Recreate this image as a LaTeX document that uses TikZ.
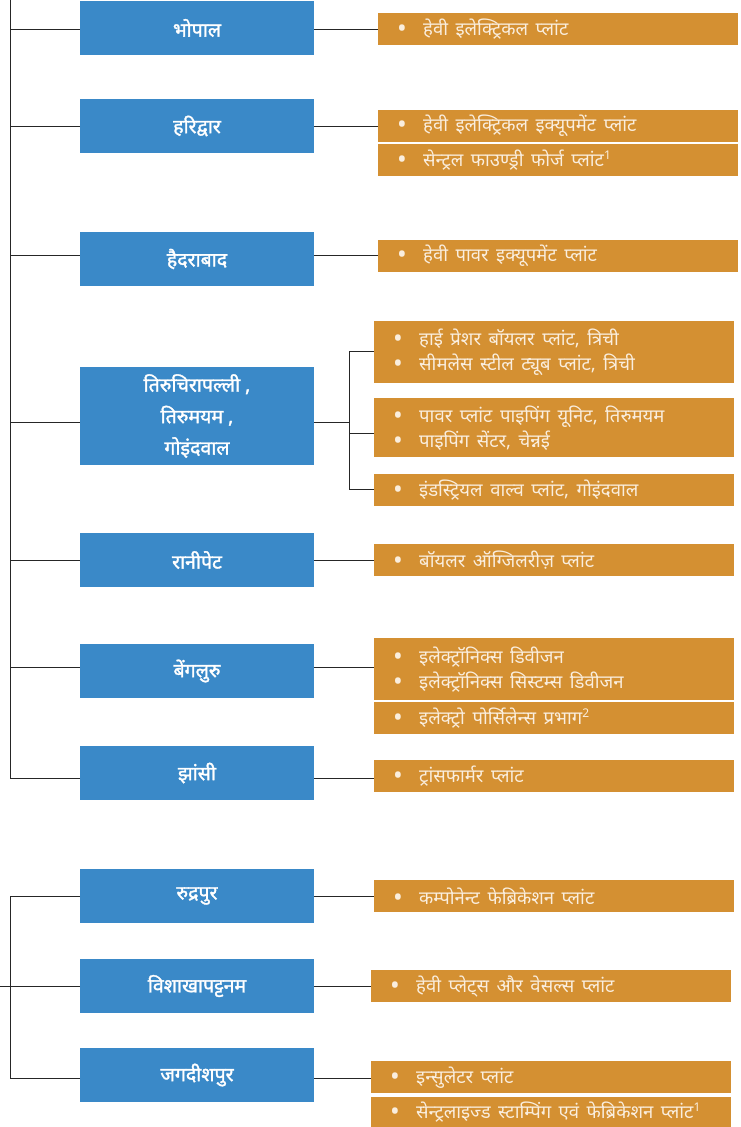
\documentclass[tikz,border=0pt]{standalone}
\usepackage{fontspec}
\newfontfamily\deva[Script=Devanagari]{Noto Sans}
\newfontfamily\devab[Script=Devanagari,FakeBold=1.6]{Noto Sans}
\usetikzlibrary{calc}
\definecolor{cityblue}{HTML}{3A89C8}
\definecolor{plantorange}{HTML}{D49032}
\definecolor{plantcream}{RGB}{250,238,222}
\newcommand{\itm}[1]{\makebox[45pt][l]{\hspace*{19pt}\raisebox{-2pt}[0pt][0pt]{\scalebox{1.4}{\textbullet}}}{\spaceskip=7.5pt plus 1pt\relax #1}}
\newcommand{\supr}[1]{\raisebox{0.38em}{\fontsize{12}{12}\selectfont\bfseries #1}}
\begin{document}
\begin{tikzpicture}[x=1pt,y=-1pt,
  citybox/.style={fill=cityblue, draw=none, minimum width=234pt, minimum height=54pt,
    inner sep=0pt, text=white, align=center,
    font=\devab\fontsize{19.5}{31.5}\selectfont},
  plantbox/.style={fill=plantorange, draw=none, anchor=north west, inner xsep=0pt, inner ysep=0pt,
    minimum height=32pt, text width=360pt, align=left, text=plantcream,
    font=\deva\fontsize{18.5}{25}\selectfont},
  link/.style={draw=black!85, line width=1pt}]
\useasboundingbox (0,0) rectangle (740,1127);

% city boxes
\node[citybox] (bhopal) at (197,28) {भोपाल};
\node[citybox] (hari) at (197,126) {हरिद्वार};
\node[citybox] (hyd) at (197,259) {हैदराबाद};
\node[citybox, minimum height=98pt] (tri) at (197,416) {तिरुचिरापल्ली ,\\तिरुमयम ,\\गोइंदवाल};
\node[citybox] (rani) at (197,560) {रानीपेट};
\node[citybox] (beng) at (197,671) {बेंगलुरु};
\node[citybox] (jhan) at (197,773) {झांसी};
\node[citybox] (rudra) at (197,896) {रुद्रपुर};
\node[citybox] (vis) at (197,986) {विशाखापट्टनम};
\node[citybox] (jag) at (197,1075) {जगदीशपुर};

% plant boxes
\node[plantbox] (p1) at (378,13) {\itm{हेवी इलेक्ट्रिकल प्लांट}};
\node[plantbox] (p2a) at (378,110) {\itm{हेवी इलेक्ट्रिकल इक्यूपमेंट प्लांट}};
\node[plantbox] (p2b) at (378,144) {\itm{सेन्ट्रल फाउण्ड्री फोर्ज प्लांट\supr{1}}};
\node[plantbox] (p3) at (378,240) {\itm{हेवी पावर इक्यूपमेंट प्लांट}};
\node[plantbox, minimum height=62pt] (p4a) at (374,321) {\itm{हाई प्रेशर बॉयलर प्लांट, त्रिची}\\\itm{सीमलेस स्टील ट्यूब प्लांट, त्रिची}};
\node[plantbox, minimum height=59pt] (p4b) at (374,398) {\itm{पावर प्लांट पाइपिंग यूनिट, तिरुमयम}\\\itm{पाइपिंग सेंटर, चेन्नई}};
\node[plantbox] (p4c) at (374,474) {\itm{इंडस्ट्रियल वाल्व प्लांट, गोइंदवाल}};
\node[plantbox] (p5) at (374,544) {\itm{बॉयलर ऑग्जिलरीज़ प्लांट}};
\node[plantbox, minimum height=62pt] (p6a) at (374,638) {\itm{इलेक्ट्रॉनिक्स डिवीजन}\\\itm{इलेक्ट्रॉनिक्स सिस्टम्स डिवीजन}};
\node[plantbox] (p6b) at (374,702) {\itm{इलेक्ट्रो पोर्सिलेन्स प्रभाग\supr{2}}};
\node[plantbox] (p7) at (374,760) {\itm{ट्रांसफार्मर प्लांट}};
\node[plantbox] (p8) at (374,880) {\itm{कम्पोनेन्ट फेब्रिकेशन प्लांट}};
\node[plantbox] (p9) at (371,970) {\itm{हेवी प्लेट्स और वेसल्स प्लांट}};
\node[plantbox] (p10a) at (371,1061) {\itm{इन्सुलेटर प्लांट}};
\node[plantbox, minimum height=30pt] (p10b) at (371,1097) {\itm{सेन्ट्रलाइज्ड स्टाम्पिंग एवं फेब्रिकेशन प्लांट\supr{1}}};

% line levels on the spine
\coordinate (sTop) at (10,0);
\coordinate (l1) at (10,29);
\coordinate (l2) at (10,126);
\coordinate (l3) at (10,255);
\coordinate (l4) at (10,422);
\coordinate (l5) at (10,560);
\coordinate (l6) at (10,667);
\coordinate (l7) at (10,778);
\coordinate (l8) at (10,896);
\coordinate (l9) at (10,986);
\coordinate (l10) at (10,1078);
\coordinate (sLeft) at (0,986);
\coordinate (brk) at (349,422);
\coordinate (brA) at (349,351);
\coordinate (brB) at (349,433);
\coordinate (brC) at (349,489);

% spines
\draw[link] (sTop) -- (l7);
\draw[link] (l8) -- (l10);
\draw[link] (sLeft) -- (vis.west);

% left connectors
\foreach \l/\n in {l1/bhopal,l2/hari,l3/hyd,l4/tri,l5/rani,l6/beng,l7/jhan,l8/rudra,l10/jag}
  \draw[link] (\l) -- (\l -| \n.west);

% right connectors
\draw[link] (l1 -| bhopal.east) -- (l1 -| p1.west);
\draw[link] (l2 -| hari.east) -- (l2 -| p2a.west);
\draw[link] (l3 -| hyd.east) -- (l3 -| p3.west);
\draw[link] (l4 -| tri.east) -- (brk);
\draw[link] (brA) -- (brC);
\draw[link] (brA) -- (brA -| p4a.west);
\draw[link] (brB) -- (brB -| p4b.west);
\draw[link] (brC) -- (brC -| p4c.west);
\draw[link] (l5 -| rani.east) -- (l5 -| p5.west);
\draw[link] (l6 -| beng.east) -- (l6 -| p6a.west);
\draw[link] (l7 -| jhan.east) -- (l7 -| p7.west);
\draw[link] (l8 -| rudra.east) -- (l8 -| p8.west);
\draw[link] (l9 -| vis.east) -- (l9 -| p9.west);
\draw[link] (l10 -| jag.east) -- (l10 -| p10a.west);
\end{tikzpicture}
\end{document}
